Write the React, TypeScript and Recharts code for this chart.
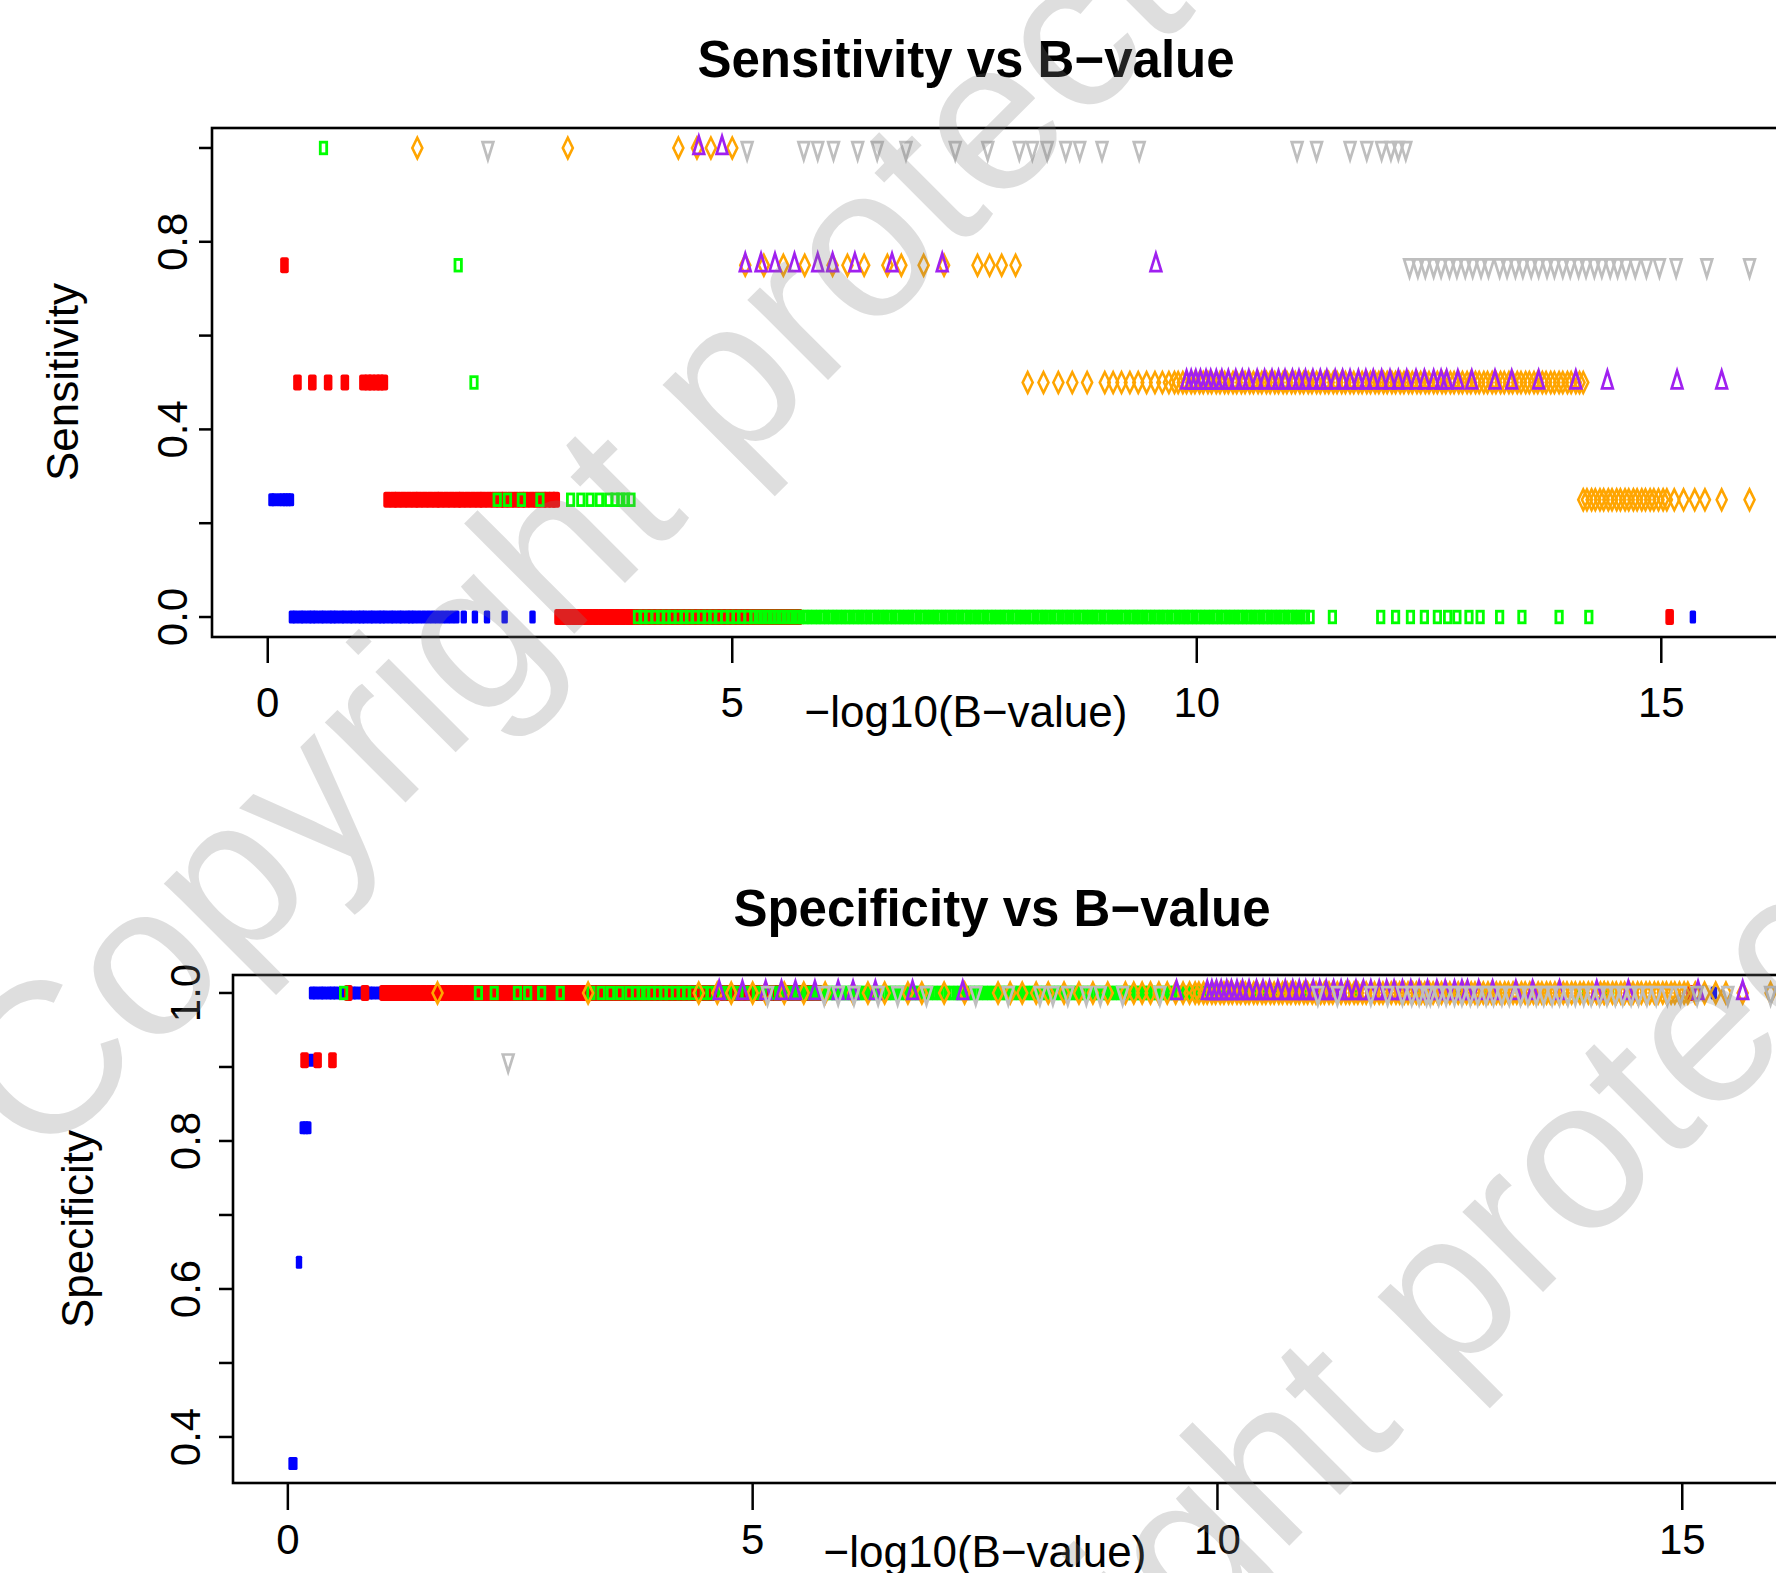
import { ScatterChart, Scatter, XAxis, YAxis } from "recharts";

const FONT = "'Liberation Sans', Arial, Helvetica, sans-serif";

// R colour names used by the original plot
const BLUE = "#0000FF";
const RED = "#FF0000";
const GREEN = "#00FF00";
const ORANGE = "#FFA500";
const PURPLE = "#A020F0";
const GRAY = "#BEBEBE";

// -log10(B-value) of each point, grouped by the sensitivity it reached
const blueAt0 = [0.26, 0.3, 0.35, 0.39, 0.44, 0.48, 0.52, 0.57, 0.61, 0.66, 0.7, 0.74, 0.79, 0.83, 0.88, 0.92, 0.97, 1.01, 1.05, 1.1, 1.14, 1.19, 1.23, 1.27, 1.32, 1.36, 1.41, 1.45, 1.5, 1.54, 1.58, 1.63, 1.68, 1.73, 1.78, 1.83, 1.88, 1.93, 1.98, 2.03, 2.11, 2.23, 2.36, 2.55, 2.85, 15.34];
const blueAt25 = [0.04, 0.07, 0.12, 0.16, 0.19, 0.22, 0.25];

const redAt0 = [3.13, 3.19, 3.24, 3.3, 3.36, 3.42, 3.47, 3.53, 3.59, 3.65, 3.7, 3.76, 3.82, 3.88, 3.93, 3.99, 4.05, 4.11, 4.16, 4.22, 4.28, 4.34, 4.39, 4.45, 4.51, 4.57, 4.62, 4.68, 4.74, 4.8, 4.85, 4.91, 4.97, 5.03, 5.08, 5.14, 5.2, 5.26, 5.31, 5.37, 5.43, 5.49, 5.54, 5.6, 5.66, 5.71, 15.09];
const redAt25 = [1.29, 1.35, 1.4, 1.46, 1.52, 1.58, 1.63, 1.69, 1.75, 1.81, 1.86, 1.92, 1.98, 2.04, 2.09, 2.15, 2.21, 2.27, 2.32, 2.38, 2.44, 2.5, 2.55, 2.61, 2.67, 2.73, 2.78, 2.84, 2.9, 2.96, 3.01, 3.06, 3.1];
const redAt50 = [0.32, 0.48, 0.65, 0.83, 1.03, 1.08, 1.12, 1.17, 1.21, 1.25];
const redAt75 = [0.18];

const greenAt0 = [3.98, 4.04, 4.1, 4.17, 4.23, 4.29, 4.35, 4.42, 4.48, 4.54, 4.6, 4.67, 4.73, 4.79, 4.85, 4.92, 4.98, 5.04, 5.1, 5.17, 5.23, 5.28, 5.33, 5.38, 5.43, 5.48, 5.53, 5.58, 5.63, 5.68,
  5.72, 5.77, 5.81, 5.86, 5.9, 5.95, 5.99, 6.04, 6.08, 6.13, 6.17, 6.22, 6.26, 6.31, 6.35, 6.4, 6.44, 6.49, 6.53, 6.58, 6.62, 6.67, 6.71, 6.76, 6.8, 6.85, 6.89, 6.94, 6.98, 7.03,
  7.07, 7.12, 7.16, 7.21, 7.25, 7.3, 7.34, 7.39, 7.43, 7.48, 7.52, 7.57, 7.61, 7.66, 7.7, 7.75, 7.79, 7.84, 7.88, 7.93, 7.97, 8.02, 8.06, 8.11, 8.15, 8.2, 8.24, 8.29, 8.33, 8.38,
  8.42, 8.47, 8.51, 8.56, 8.6, 8.65, 8.69, 8.74, 8.78, 8.83, 8.87, 8.92, 8.96, 9.01, 9.05, 9.1, 9.14, 9.19, 9.23, 9.28, 9.32, 9.37, 9.41, 9.46, 9.5, 9.55, 9.59, 9.64, 9.68, 9.73,
  9.77, 9.82, 9.86, 9.91, 9.95, 10.0, 10.04, 10.09, 10.13, 10.18, 10.22, 10.27, 10.31, 10.36, 10.4, 10.45, 10.49, 10.54, 10.58, 10.63, 10.67, 10.72, 10.76, 10.81, 10.85, 10.9, 10.94, 10.99, 11.03, 11.08,
  11.12, 11.17, 11.22, 11.46, 11.98, 12.14, 12.3, 12.45, 12.59, 12.7, 12.8, 12.93, 13.05, 13.26, 13.5, 13.9, 14.22];
const greenAt25 = [2.47, 2.58, 2.73, 2.93, 3.26, 3.37, 3.47, 3.57, 3.67, 3.74, 3.8, 3.85, 3.91];
const greenAt50 = [2.22];
const greenAt75 = [2.05];
const greenAt100 = [0.6];

const orangeAt25 = [14.16, 14.2, 14.25, 14.29, 14.34, 14.38, 14.43, 14.47, 14.52, 14.56, 14.61, 14.65, 14.7, 14.74, 14.79, 14.83, 14.88, 14.92, 14.97, 15.02, 15.06, 15.14, 15.24, 15.36, 15.47, 15.65, 15.95];
const orangeAt50 = [8.18, 8.35, 8.51, 8.66, 8.82, 9.01, 9.1, 9.19, 9.28, 9.37, 9.46, 9.55, 9.63, 9.7, 9.76,
  9.8, 9.85, 9.89, 9.94, 9.98, 10.03, 10.07, 10.12, 10.16, 10.21, 10.25, 10.3, 10.34, 10.39, 10.43, 10.48, 10.52, 10.57, 10.61, 10.66, 10.7, 10.75, 10.79, 10.84, 10.88, 10.93, 10.97, 11.02, 11.06, 11.11,
  11.15, 11.2, 11.24, 11.29, 11.33, 11.38, 11.42, 11.47, 11.51, 11.56, 11.6, 11.65, 11.69, 11.74, 11.78, 11.83, 11.87, 11.92, 11.96, 12.01, 12.05, 12.1, 12.14, 12.19, 12.23, 12.28, 12.32, 12.37, 12.41, 12.46,
  12.5, 12.55, 12.59, 12.64, 12.68, 12.73, 12.77, 12.82, 12.86, 12.91, 12.95, 13.0, 13.04, 13.09, 13.13, 13.18, 13.22, 13.27, 13.31, 13.36, 13.4, 13.45, 13.49, 13.54, 13.58, 13.63, 13.67, 13.72, 13.76, 13.81,
  13.85, 13.9, 13.94, 13.99, 14.03, 14.08, 14.12, 14.16];
const orangeAt75 = [5.14, 5.34, 5.55, 5.78, 6.08, 6.24, 6.42, 6.67, 6.82, 7.06, 7.28, 7.64, 7.77, 7.9, 8.05];
const orangeAt100 = [1.61, 3.23, 4.42, 4.62, 4.77, 5.0];

const purpleAt50 = [9.89, 9.94, 9.99, 10.04, 10.1, 10.15, 10.21, 10.27, 10.34, 10.42, 10.49, 10.56, 10.65, 10.73, 10.81, 10.88, 10.95, 11.03, 11.1, 11.17, 11.25, 11.33, 11.4, 11.49, 11.57, 11.65, 11.74, 11.82, 11.9, 11.99,
  12.08, 12.17, 12.26, 12.36, 12.45, 12.55, 12.63, 12.69, 12.81, 12.96, 13.21, 13.39, 13.68, 14.08, 14.42, 15.17, 15.65];
const purpleAt75 = [5.14, 5.31, 5.46, 5.67, 5.92, 6.08, 6.32, 6.72, 7.26, 9.56];
const purpleAt100 = [4.64, 4.89];

const grayAt75 = [12.29, 12.38, 12.46, 12.55, 12.63, 12.72, 12.8, 12.89, 12.97, 13.06, 13.14, 13.26, 13.34, 13.43, 13.51, 13.6, 13.68, 13.77, 13.85, 13.94, 14.02, 14.11, 14.19, 14.28, 14.36, 14.45, 14.53, 14.62, 14.72, 14.84, 14.98, 15.16, 15.49, 15.95];
const grayAt100 = [2.37, 5.16, 5.77, 5.92, 6.09, 6.35, 6.56, 6.87, 7.4, 7.75, 8.09, 8.23, 8.39, 8.59, 8.74, 8.98, 9.38, 11.08, 11.29, 11.65, 11.83, 11.99, 12.09, 12.17, 12.25];

// points whose specificity is below 1 (everything else sits at 1.0)
const blueSpecLow = [[0.04, 0.364], [0.07, 0.364], [0.12, 0.636], [0.16, 0.818], [0.19, 0.818], [0.22, 0.818], [0.25, 0.909]];
const redSpecLow = [[0.18, 0.909], [0.32, 0.909], [0.48, 0.909]];
const graySpecLow = [[2.37, 0.909]];

const xTicks = [0, 5, 10, 15];
const sensTicks = [0, 0.2, 0.4, 0.6, 0.8, 1];
const sensLabels = [0, 0.4, 0.8];
const specTicks = [0.4, 0.5, 0.6, 0.7, 0.8, 0.9, 1];
const specLabels = [0.4, 0.6, 0.8, 1];

const sens = (groups: [number[], number][]) =>
  groups.flatMap(([xs, s]) => xs.map((b) => ({ b, s })));

const spec = (groups: [number[], number][], low: number[][] = []) =>
  groups.flatMap(([xs]) => xs.map((b) => {
    const hit = low.find((l) => l[0] === b);
    return { b, s: hit ? hit[1] : 1 };
  }));

const blueGroups: [number[], number][] = [[blueAt0, 0], [blueAt25, 0.25]];
const redGroups: [number[], number][] = [[redAt0, 0], [redAt25, 0.25], [redAt50, 0.5], [redAt75, 0.75]];
const greenGroups: [number[], number][] = [[greenAt0, 0], [greenAt25, 0.25], [greenAt50, 0.5], [greenAt75, 0.75], [greenAt100, 1]];
const orangeGroups: [number[], number][] = [[orangeAt25, 0.25], [orangeAt50, 0.5], [orangeAt75, 0.75], [orangeAt100, 1]];
const purpleGroups: [number[], number][] = [[purpleAt50, 0.5], [purpleAt75, 0.75], [purpleAt100, 1]];
const grayGroups: [number[], number][] = [[grayAt75, 0.75], [grayAt100, 1]];

// R pch symbols, stretched tall like the original figure
const blueMark = (p: any) => (
  <rect x={p.cx - 3.2} y={p.cy - 6.5} width={6.4} height={13} rx={1.5} fill={BLUE} />
);
const redMark = (p: any) => (
  <rect x={p.cx - 4.3} y={p.cy - 8} width={8.6} height={16} rx={2} fill={RED} />
);
const greenMark = (p: any) => (
  <rect x={p.cx - 3.2} y={p.cy - 5.8} width={6.4} height={11.6} fill="none" stroke={GREEN} strokeWidth={2.8} />
);
const orangeMark = (p: any) => (
  <path d={`M${p.cx},${p.cy - 10.2}L${p.cx + 5},${p.cy}L${p.cx},${p.cy + 10.2}L${p.cx - 5},${p.cy}Z`}
        fill="none" stroke={ORANGE} strokeWidth={2.6} />
);
const purpleMark = (p: any) => (
  <path d={`M${p.cx},${p.cy - 11.6}L${p.cx + 5.4},${p.cy + 5.8}L${p.cx - 5.4},${p.cy + 5.8}Z`}
        fill="none" stroke={PURPLE} strokeWidth={2.7} />
);
const grayMark = (p: any) => (
  <path d={`M${p.cx},${p.cy + 11.6}L${p.cx + 5.4},${p.cy - 5.8}L${p.cx - 5.4},${p.cy - 5.8}Z`}
        fill="none" stroke={GRAY} strokeWidth={2.7} />
);

const tickLine = { stroke: "#000", strokeWidth: 2.5 };

function XTick({ x, y, payload, dy }: any) {
  return (
    <text x={x} y={y + dy} textAnchor="middle" fontSize={42} fontFamily={FONT} fill="#000">
      {payload.value}
    </text>
  );
}

function YTick({ x, y, payload, dx, labels }: any) {
  if (!labels.some((v: number) => Math.abs(v - payload.value) < 1e-6)) return <g />;
  const bx = x - dx;
  return (
    <text x={bx} y={y} transform={`rotate(-90, ${bx}, ${y})`} textAnchor="middle"
          fontSize={42} fontFamily={FONT} fill="#000">
      {payload.value.toFixed(1)}
    </text>
  );
}

function Panel(props: { top: number; height: number; margin: any; yDomain: number[]; yTicks: number[];
                        yLabels: number[]; tickX: number; tickY: number; xDomain: number[]; xTickDy: number;
                        yTickDx: number; data: any[] }) {
  const { top, height, margin, yDomain, yTicks, yLabels, tickX, tickY, xDomain, xTickDy, yTickDx, data } = props;
  const shapes = [blueMark, redMark, greenMark, orangeMark, purpleMark, grayMark];
  return (
    <div style={{ position: "absolute", left: 0, top }}>
      <ScatterChart width={1900} height={height} margin={margin}>
        <XAxis type="number" dataKey="b" domain={xDomain} ticks={xTicks} interval={0} allowDataOverflow
               axisLine={false} tickLine={tickLine} tickSize={tickY} tickMargin={0} height={80}
               tick={(p: any) => <XTick {...p} dy={xTickDy} />} />
        <YAxis type="number" dataKey="s" domain={yDomain} ticks={yTicks} interval={0} allowDataOverflow
               axisLine={false} tickLine={tickLine} tickSize={tickX} tickMargin={0} width={60}
               tick={(p: any) => <YTick {...p} dx={yTickDx} labels={yLabels} />} />
        {data.map((d, i) => (
          <Scatter key={i} data={d} shape={shapes[i]} isAnimationActive={false} />
        ))}
      </ScatterChart>
    </div>
  );
}

export default function App() {
  const topData = [sens(blueGroups), sens(redGroups), sens(greenGroups), sens(orangeGroups), sens(purpleGroups), sens(grayGroups)];
  const bottomData = [spec(blueGroups, blueSpecLow), spec(redGroups, redSpecLow), spec(greenGroups), spec(orangeGroups),
                      spec(purpleGroups), spec(grayGroups, graySpecLow)];
  const text = { fontFamily: FONT, fill: "#000" };
  return (
    <div style={{ position: "absolute", left: 0, top: 0, width: 1776, height: 1573, overflow: "hidden", background: "#fff" }}>
      <Panel top={0} height={760} margin={{ top: 128, right: 91, bottom: 43, left: 152 }}
             xDomain={[-0.6, 16.59]} yDomain={[-0.0426, 1.0426]} yTicks={sensTicks} yLabels={sensLabels}
             tickX={13} tickY={26} xTickDy={54} yTickDx={12} data={topData} />
      <Panel top={760} height={813} margin={{ top: 215, right: 69, bottom: 10, left: 173 }}
             xDomain={[-0.59, 16.6]} yDomain={[0.3378, 1.0243]} yTicks={specTicks} yLabels={specLabels}
             tickX={14} tickY={27} xTickDy={44} yTickDx={19} data={bottomData} />

      <svg width={1776} height={1573} style={{ position: "absolute", left: 0, top: 0, pointerEvents: "none" }}>
        <rect x={212} y={128} width={1700} height={509} fill="none" stroke="#000" strokeWidth={2.6} />
        <rect x={233} y={975} width={1700} height={508} fill="none" stroke="#000" strokeWidth={2.6} />

        <text x={966} y={77} textAnchor="middle" fontSize={51} fontWeight="bold" {...text}>Sensitivity vs B−value</text>
        <text x={1002} y={926} textAnchor="middle" fontSize={51} fontWeight="bold" {...text}>Specificity vs B−value</text>

        <text x={966} y={727} textAnchor="middle" fontSize={44} {...text}>−log10(B−value)</text>
        <text x={985} y={1567} textAnchor="middle" fontSize={44} {...text}>−log10(B−value)</text>

        <text x={78} y={382} transform="rotate(-90, 78, 382)" textAnchor="middle" fontSize={44} {...text}>Sensitivity</text>
        <text x={93} y={1229} transform="rotate(-90, 93, 1229)" textAnchor="middle" fontSize={44} {...text}>Specificity</text>
      </svg>

      <svg width={1776} height={1573} style={{ position: "absolute", left: 0, top: 0, pointerEvents: "none" }}>
        <g fontFamily={FONT} fontSize={215} fill="#808080" fillOpacity={0.26}>
          <text x={40} y={1168} transform="rotate(-45, 40, 1168)">Copyright protected</text>
          <text x={755} y={2080} transform="rotate(-45, 755, 2080)">Copyright protected</text>
        </g>
      </svg>
    </div>
  );
}
